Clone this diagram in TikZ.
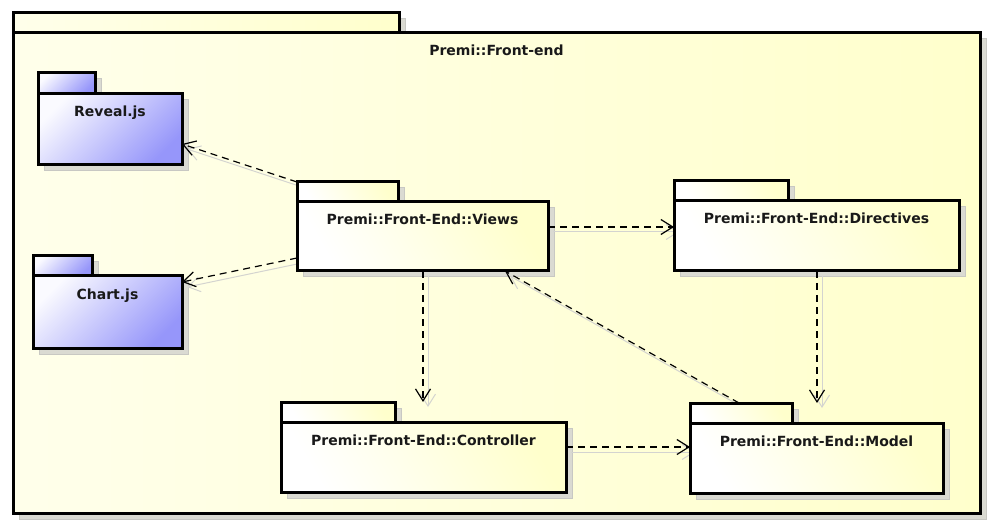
\documentclass[tikz,border=0pt]{standalone}
\usepackage{fontspec}
\setmainfont{DejaVu Sans}
\usetikzlibrary{arrows.meta,calc}
\pgfdeclarelayer{oshadow}
\pgfdeclarelayer{outerlayer}
\pgfdeclarelayer{shad}
\pgfdeclarelayer{front}
\pgfsetlayers{oshadow,outerlayer,shad,main,front}
\definecolor{pkgyellow}{RGB}{255,255,204}
\definecolor{pkgblue}{RGB}{150,150,250}
\definecolor{shadowc}{RGB}{218,218,210}
\definecolor{shadowline}{RGB}{200,200,195}
\definecolor{cshadowc}{RGB}{212,212,208}
\definecolor{txt}{RGB}{25,25,25}
\tikzset{
  box/.style={draw=black, line width=3pt, outer sep=0pt, inner sep=0pt, anchor=north west},
  outerpkg/.style={box, left color=white!60!pkgyellow, right color=pkgyellow, shading angle=90},
  yelpkg/.style={box, left color=white, right color=pkgyellow, shading angle=120},
  bluepkg/.style={box, left color=white!95!pkgblue, right color=pkgblue, shading angle=45},
  boxshadow/.style={fill=shadowc, draw=shadowline, line width=1pt},
  lbl/.style={font=\fontsize{14}{17}\selectfont\bfseries, text=txt, inner sep=0pt, anchor=base},
  dep/.style={draw=black, line width=1.2pt, dash pattern=on 7pt off 5pt,
    -{Straight Barb[length=12pt, width=15pt, line width=1.2pt]}},
  depshadow/.style={draw=cshadowc, line width=1pt,
    -{Straight Barb[length=12pt, width=15pt, line width=1pt]},
    transform canvas={shift={(5pt,-5pt)}}}
}
\newcommand\mkshadow[2]{%
  \begin{pgfonlayer}{shad}
    \path[boxshadow] ($(#1.north west)+(6,6)$) rectangle ($(#1.south east)+(6,6)$);
  \end{pgfonlayer}}
\newcommand\depline[2]{%
  \begin{pgfonlayer}{shad}\draw[depshadow] #1 -- #2;\end{pgfonlayer}
  \begin{pgfonlayer}{front}\draw[dep] #1 -- #2;\end{pgfonlayer}}
\begin{document}
\begin{tikzpicture}[x=1pt,y=-1pt]
\useasboundingbox (0,0) rectangle (992,526);
% outer package
\begin{pgfonlayer}{outerlayer}
\node[outerpkg, minimum width=386pt, minimum height=20pt] (outerT) at (13,13) {};
\node[outerpkg, minimum width=967pt, minimum height=480pt] (outer) at (13,33) {};
\end{pgfonlayer}
\begin{pgfonlayer}{oshadow}
\fill[white] (0,0) rectangle (992,526);
\path[boxshadow] ($(outerT.north west)+(6,6)$) rectangle ($(outerT.south east)+(6,6)$);
\path[boxshadow] ($(outer.north west)+(6,6)$) rectangle ($(outer.south east)+(6,6)$);
\end{pgfonlayer}
\node[lbl] (outerL) at ($(outer.north)+(0,23)$) {Premi::Front-end};
% Reveal.js
\node[bluepkg, minimum width=57pt, minimum height=21pt] (revealT) at (38,73) {};
\node[bluepkg, minimum width=144pt, minimum height=71pt] (reveal) at (38,94) {};
\mkshadow{revealT}{} \mkshadow{reveal}{}
\node[lbl] (revealL) at ($(reveal.north)+(0,23)$) {Reveal.js};
% Chart.js
\node[bluepkg, minimum width=59pt, minimum height=20pt] (chartT) at (33,256) {};
\node[bluepkg, minimum width=149pt, minimum height=72pt] (chart) at (33,276) {};
\mkshadow{chartT}{} \mkshadow{chart}{}
\node[lbl] (chartL) at ($(chart.north)+(0,23)$) {Chart.js};
% Views
\node[yelpkg, minimum width=101pt, minimum height=20pt] (viewsT) at (297,182) {};
\node[yelpkg, minimum width=251pt, minimum height=69pt] (views) at (297,202) {};
\mkshadow{viewsT}{} \mkshadow{views}{}
\node[lbl] (viewsL) at ($(views.north)+(0,23)$) {Premi::Front-End::Views};
% Directives
\node[yelpkg, minimum width=114pt, minimum height=20pt] (dirT) at (674,181) {};
\node[yelpkg, minimum width=285pt, minimum height=70pt] (dir) at (674,201) {};
\mkshadow{dirT}{} \mkshadow{dir}{}
\node[lbl] (dirL) at ($(dir.north)+(0,23)$) {Premi::Front-End::Directives};
% Controller
\node[yelpkg, minimum width=114pt, minimum height=20pt] (ctrlT) at (281,402) {};
\node[yelpkg, minimum width=285pt, minimum height=70pt] (ctrl) at (281,422) {};
\mkshadow{ctrlT}{} \mkshadow{ctrl}{}
\node[lbl] (ctrlL) at ($(ctrl.north)+(0,23)$) {Premi::Front-End::Controller};
% Model
\node[yelpkg, minimum width=102pt, minimum height=20pt] (modelT) at (690,403) {};
\node[yelpkg, minimum width=253pt, minimum height=70pt] (model) at (690,423) {};
\mkshadow{modelT}{} \mkshadow{model}{}
\node[lbl] (modelL) at ($(model.north)+(0,23)$) {Premi::Front-End::Model};
% dependencies
\depline{(viewsT.north west)}{($(reveal.north east)+(0,50)$)}
\depline{($(views.north west)+(0,56)$)}{($(chart.north east)+(0,6)$)}
\depline{($(views.north east)+(0,25)$)}{($(dir.north west)+(0,26)$)}
\depline{($(views.south west)+(126,0)$)}{($(ctrl.north west)+(142,-20)$)}
\depline{($(dir.south west)+(143,0)$)}{($(model.north west)+(127,-20)$)}
\depline{($(ctrl.north east)+(0,25)$)}{($(model.north west)+(0,24)$)}
\depline{($(modelT.north west)+(49,0)$)}{($(views.south west)+(208,0)$)}
\end{tikzpicture}
\end{document}
